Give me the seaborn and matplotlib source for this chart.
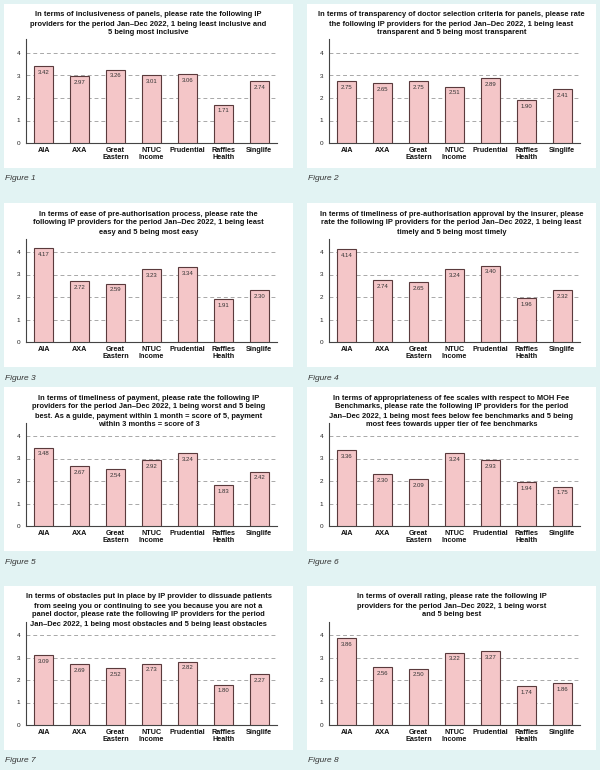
import pandas as pd
import matplotlib
matplotlib.use("Agg")
import matplotlib.pyplot as plt
import seaborn as sns
from matplotlib.patches import Rectangle
from matplotlib.ticker import FixedLocator

providers = ["AIA", "AXA", "Great\nEastern", "NTUC\nIncome", "Prudential", "Raffles\nHealth", "Singlife"]

fig1 = [3.42, 2.97, 3.26, 3.01, 3.06, 1.71, 2.74]
fig2 = [2.75, 2.65, 2.75, 2.51, 2.89, 1.90, 2.41]
fig3 = [4.17, 2.72, 2.59, 3.23, 3.34, 1.91, 2.30]
fig4 = [4.14, 2.74, 2.65, 3.24, 3.40, 1.96, 2.32]
fig5 = [3.48, 2.67, 2.54, 2.92, 3.24, 1.83, 2.42]
fig6 = [3.36, 2.30, 2.09, 3.24, 2.93, 1.94, 1.75]
fig7 = [3.09, 2.69, 2.52, 2.73, 2.82, 1.80, 2.27]
fig8 = [3.86, 2.56, 2.50, 3.22, 3.27, 1.74, 1.86]

titles = [
    "In terms of inclusiveness of panels, please rate the following IP\nproviders for the period Jan\u2013Dec 2022, 1 being least inclusive and\n5 being most inclusive",
    "In terms of transparency of doctor selection criteria for panels, please rate\nthe following IP providers for the period Jan\u2013Dec 2022, 1 being least\ntransparent and 5 being most transparent",
    "In terms of ease of pre-authorisation process, please rate the\nfollowing IP providers for the period Jan\u2013Dec 2022, 1 being least\neasy and 5 being most easy",
    "In terms of timeliness of pre-authorisation approval by the insurer, please\nrate the following IP providers for the period Jan\u2013Dec 2022, 1 being least\ntimely and 5 being most timely",
    "In terms of timeliness of payment, please rate the following IP\nproviders for the period Jan\u2013Dec 2022, 1 being worst and 5 being\nbest. As a guide, payment within 1 month = score of 5, payment\nwithin 3 months = score of 3",
    "In terms of appropriateness of fee scales with respect to MOH Fee\nBenchmarks, please rate the following IP providers for the period\nJan\u2013Dec 2022, 1 being most fees below fee benchmarks and 5 being\nmost fees towards upper tier of fee benchmarks",
    "In terms of obstacles put in place by IP provider to dissuade patients\nfrom seeing you or continuing to see you because you are not a\npanel doctor, please rate the following IP providers for the period\nJan\u2013Dec 2022, 1 being most obstacles and 5 being least obstacles",
    "In terms of overall rating, please rate the following IP\nproviders for the period Jan\u2013Dec 2022, 1 being worst\nand 5 being best",
]
labels = ["Figure 1", "Figure 2", "Figure 3", "Figure 4", "Figure 5", "Figure 6", "Figure 7", "Figure 8"]
yticks = [0, 1, 2, 3, 4]

all_scores = [fig1, fig2, fig3, fig4, fig5, fig6, fig7, fig8]

sns.set_style("white")
plt.rcParams["font.family"] = ["Liberation Sans Narrow", "Liberation Sans", "DejaVu Sans"]

W, H = 600, 770
fig = plt.figure(figsize=(6, 7.7), dpi=100)
fig.patch.set_facecolor("#e2f3f3")

col_left = [4, 307]
row_top = [4, 203, 387, 586]
panel_w, panel_h = 289, 164

bar_col = "#f4c6c8"
edge_col = "#5a3a3c"

for i, scores in enumerate(all_scores):
    r, c = divmod(i, 2)
    px, py = col_left[c], row_top[r]

    # white panel behind the axes
    fig.patches.append(Rectangle((px / W, 1 - (py + panel_h) / H), panel_w / W, panel_h / H,
                                 transform=fig.transFigure, facecolor="white", edgecolor="none", zorder=-5))

    ax_l = px + 22
    ax_top = py + 35.5
    ax_bot = py + 139
    ax = fig.add_axes([ax_l / W, 1 - ax_bot / H, 251 / W, (ax_bot - ax_top) / H])
    ax.set_facecolor("none")
    ax.set_zorder(2)

    df = pd.DataFrame({"provider": providers, "score": scores})
    sns.barplot(data=df, x="provider", y="score", ax=ax, color=bar_col,
                edgecolor=edge_col, linewidth=0.8, width=0.53, saturation=1, zorder=3)

    for j, v in enumerate(df["score"]):
        ax.annotate(f"{v:.2f}", (j, v), xytext=(0, -4.5), textcoords="offset points",
                    ha="center", va="center", fontsize=4.3, color="#333333", zorder=4)

    ax.set_ylim(0, 4.6)
    ax.set_xlim(-0.5, 6.5)
    ax.set_yticks(yticks)
    ax.yaxis.grid(True, color="#a8a8a8", linestyle=(0, (4, 3)), linewidth=0.7, zorder=0)
    ax.xaxis.grid(False)
    ax.set_axisbelow(True)
    ax.set_xlabel("")
    ax.set_ylabel("")
    for s in ["top", "right"]:
        ax.spines[s].set_visible(False)
    for s in ["left", "bottom"]:
        ax.spines[s].set_color("#444444")
        ax.spines[s].set_linewidth(0.8)
    ax.tick_params(axis="y", length=0, pad=4, labelsize=4.6, colors="#222222")
    ax.tick_params(axis="x", which="major", length=0, pad=3, labelsize=5.2, colors="#111111")
    for t in ax.get_xticklabels():
        t.set_fontweight("bold")
        t.set_linespacing(1.0)
    ax.xaxis.set_minor_locator(FixedLocator([k + 0.5 for k in range(6)]))
    ax.tick_params(axis="x", which="minor", length=2, width=0.7, color="#444444", direction="out")

    fig.text((px + panel_w / 2) / W, 1 - (py + 7.5) / H, titles[i], ha="center", va="top",
             fontsize=5.4, fontweight="bold", linespacing=1.4, color="#111111")
    fig.text((px + 1) / W, 1 - (py + 175) / H, labels[i], ha="left", va="center",
             fontsize=6.0, style="italic", color="#333333")

fig.savefig("out.png", dpi=100, facecolor=fig.get_facecolor())
